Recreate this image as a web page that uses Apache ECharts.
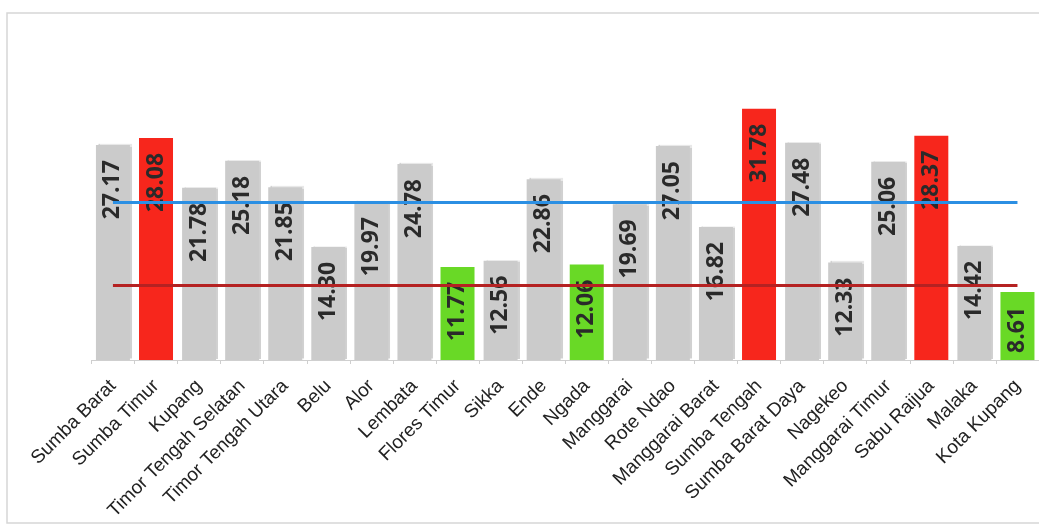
<!DOCTYPE html>
<html>
<head>
<meta charset="utf-8">
<script src="https://cdn.jsdelivr.net/npm/echarts@6/dist/echarts.min.js"></script>
<style>html,body{margin:0;padding:0;background:#fff}#c{width:1039px;height:527px}</style>
</head>
<body>
<div id="c"></div>
<script>
const categories = ["Sumba Barat","Sumba Timur","Kupang","Timor Tengah Selatan","Timor Tengah Utara","Belu","Alor","Lembata","Flores Timur","Sikka","Ende","Ngada","Manggarai","Rote Ndao","Manggarai Barat","Sumba Tengah","Sumba Barat Daya","Nagekeo","Manggarai Timur","Sabu Raijua","Malaka","Kota Kupang"];
const values = [27.17,28.08,21.78,25.18,21.85,14.30,19.97,24.78,11.77,12.56,22.86,12.06,19.69,27.05,16.82,31.78,27.48,12.33,25.06,28.37,14.42,8.61];
const status = ["","high","","","","","","","low","","","low","","","","high","","","","high","","low"];
const blueRef = 20.0;
const redRef = 9.4;

const colorFor = {high:"#f7261c", low:"#69d926", "":"#cbcbcb"};
const chart = echarts.init(document.getElementById('c'), null, {renderer:'canvas'});
chart.setOption({
  animation:false,
  backgroundColor:'#fff',
  graphic:[{type:'rect',shape:{x:7,y:13,width:1040,height:510},style:{fill:'none',stroke:'#d6d6d6',lineWidth:1.5},silent:true}],
  grid:{left:91.4, top:83.2, width:949, bottom:167},
  xAxis:{type:'category',data:categories,
    axisLine:{lineStyle:{color:'#cfcfcf'}},
    axisTick:{show:true,length:4,lineStyle:{color:'#cfcfcf'}},
    axisLabel:{rotate:45,interval:0,fontSize:19,color:'#222',fontFamily:'Liberation Sans',margin:23}},
  yAxis:{type:'value',min:0,max:35,show:false,splitLine:{show:false}},
  series:[{
    type:'bar',barWidth:34,
    data:values.map((v,i)=>({value:v,itemStyle:{color:colorFor[status[i]],
      shadowColor: status[i]===''?'rgba(0,0,0,0.18)':'rgba(0,0,0,0)',shadowOffsetX:2,shadowOffsetY:-1,shadowBlur:1}})),
    label:{show:true,position:'insideTop',rotate:90,align:'right',verticalAlign:'middle',distance:15,
      formatter:p=>p.value.toFixed(2),fontSize:23,fontWeight:'bold',color:'#2a2a2a',fontFamily:'Open Sans'},
    markLine:{symbol:'none',silent:true,label:{show:false},
      data:[
        [{xAxis:0,yAxis:blueRef,lineStyle:{color:'#2b8fe3',width:3,type:'solid'}},{xAxis:categories.length-1,yAxis:blueRef}],
        [{xAxis:0,yAxis:redRef,lineStyle:{color:'#b52222',width:3,type:'solid'}},{xAxis:categories.length-1,yAxis:redRef}]
      ]}
  }]
});
</script>
</body>
</html>
